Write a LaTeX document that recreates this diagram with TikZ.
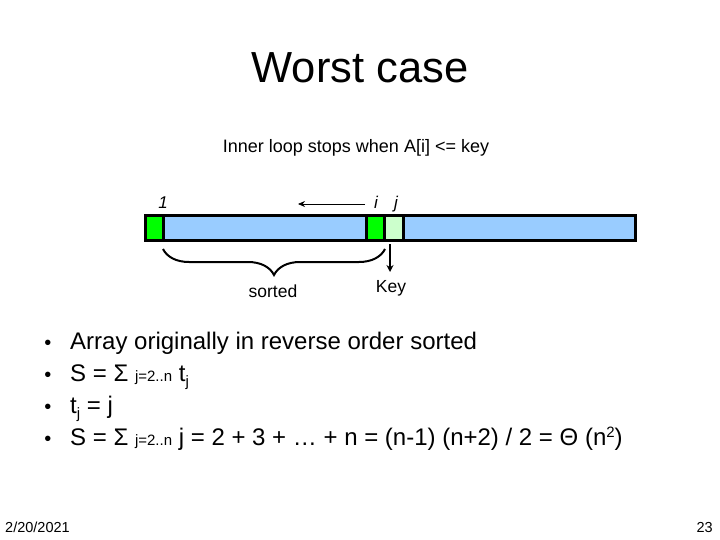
\documentclass[tikz,border=0pt]{standalone}
\usepackage{fontspec}
\setmainfont{Liberation Sans}
\usetikzlibrary{decorations.pathreplacing,arrows.meta}
\definecolor{barblue}{HTML}{99CCFF}
\definecolor{cellgreen}{HTML}{00FF00}
\definecolor{keygreen}{HTML}{CCFFCC}
\begin{document}
\begin{tikzpicture}[x=1pt,y=-1pt,
  cell/.style={draw=black,line width=3pt},
  lbl/.style={inner sep=0pt,anchor=base},
  bul/.style={inner sep=0pt,anchor=base west,font=\fontsize{24}{26}\selectfont}]
\useasboundingbox (0,0) rectangle (720,540);
\node[lbl,font=\fontsize{43.5}{46}\selectfont] (title) at (360,83) {Worst case};
\node[lbl,font=\fontsize{18}{20}\selectfont] (inner) at (356,153) {Inner loop stops when A[i] <= key};
% array
\draw[cell,fill=barblue] (145,215.5) rectangle (635,240);
\draw[cell,fill=cellgreen] (145,215.5) rectangle (163,240);
\draw[cell,fill=cellgreen] (366,215.5) rectangle (384,240);
\draw[cell,fill=keygreen] (384,215.5) rectangle (403,240);
\coordinate (bl) at (163,249);
\coordinate (br) at (385,249);
\coordinate (ka) at (390,244);
\coordinate (kb) at (390,272);
\coordinate (aa) at (365,204);
\coordinate (ab) at (298,204);
\node[lbl,font=\fontsize{17}{19}\itshape] (one) at (163,209) {1};
\node[lbl,font=\fontsize{17}{19}\itshape] (ii) at (376,209) {i};
\node[lbl,font=\fontsize{17}{19}\itshape] (jj) at (396,209) {j};
\draw[-{Stealth[length=7pt,width=6pt]},line width=0.8pt] (aa) -- (ab);
\draw[line width=2pt,decorate,decoration={brace,mirror,amplitude=26pt,aspect=0.5}] (bl) -- (br);
\node[lbl,font=\fontsize{17.5}{19}\selectfont] (sorted) at (273,297) {sorted};
\draw[-{Stealth[length=7pt,width=7pt]},line width=1.4pt] (ka) -- (kb);
\node[lbl,font=\fontsize{17.5}{19}\selectfont] (key) at (391,292) {Key};
% bullets
\foreach \y in {349,381,413,445}{\node[lbl,font=\fontsize{20}{22}\selectfont] at (48,\y) {•};}
\node[bul] (b1) at (70,349) {Array originally in reverse order sorted};
\node[bul] (b2) at (70,381) {S = Σ {\fontsize{15}{16}\selectfont j=2..n} t\raisebox{-5pt}{\fontsize{15}{16}\selectfont j}};
\node[bul] (b3) at (70,413) {t\raisebox{-5pt}{\fontsize{15}{16}\selectfont j} = j};
\node[bul] (b4) at (70,445) {S = Σ {\fontsize{15}{16}\selectfont j=2..n} j = 2 + 3 + … + n = (n-1) (n+2) / 2 = Θ (n\raisebox{8pt}{\fontsize{15}{16}\selectfont 2})};
\node[lbl,anchor=base west,font=\fontsize{14.5}{16}\selectfont] (date) at (5,532) {2/20/2021};
\node[lbl,anchor=base east,font=\fontsize{14.5}{16}\selectfont] (page) at (713,532) {23};
\end{tikzpicture}
\end{document}
